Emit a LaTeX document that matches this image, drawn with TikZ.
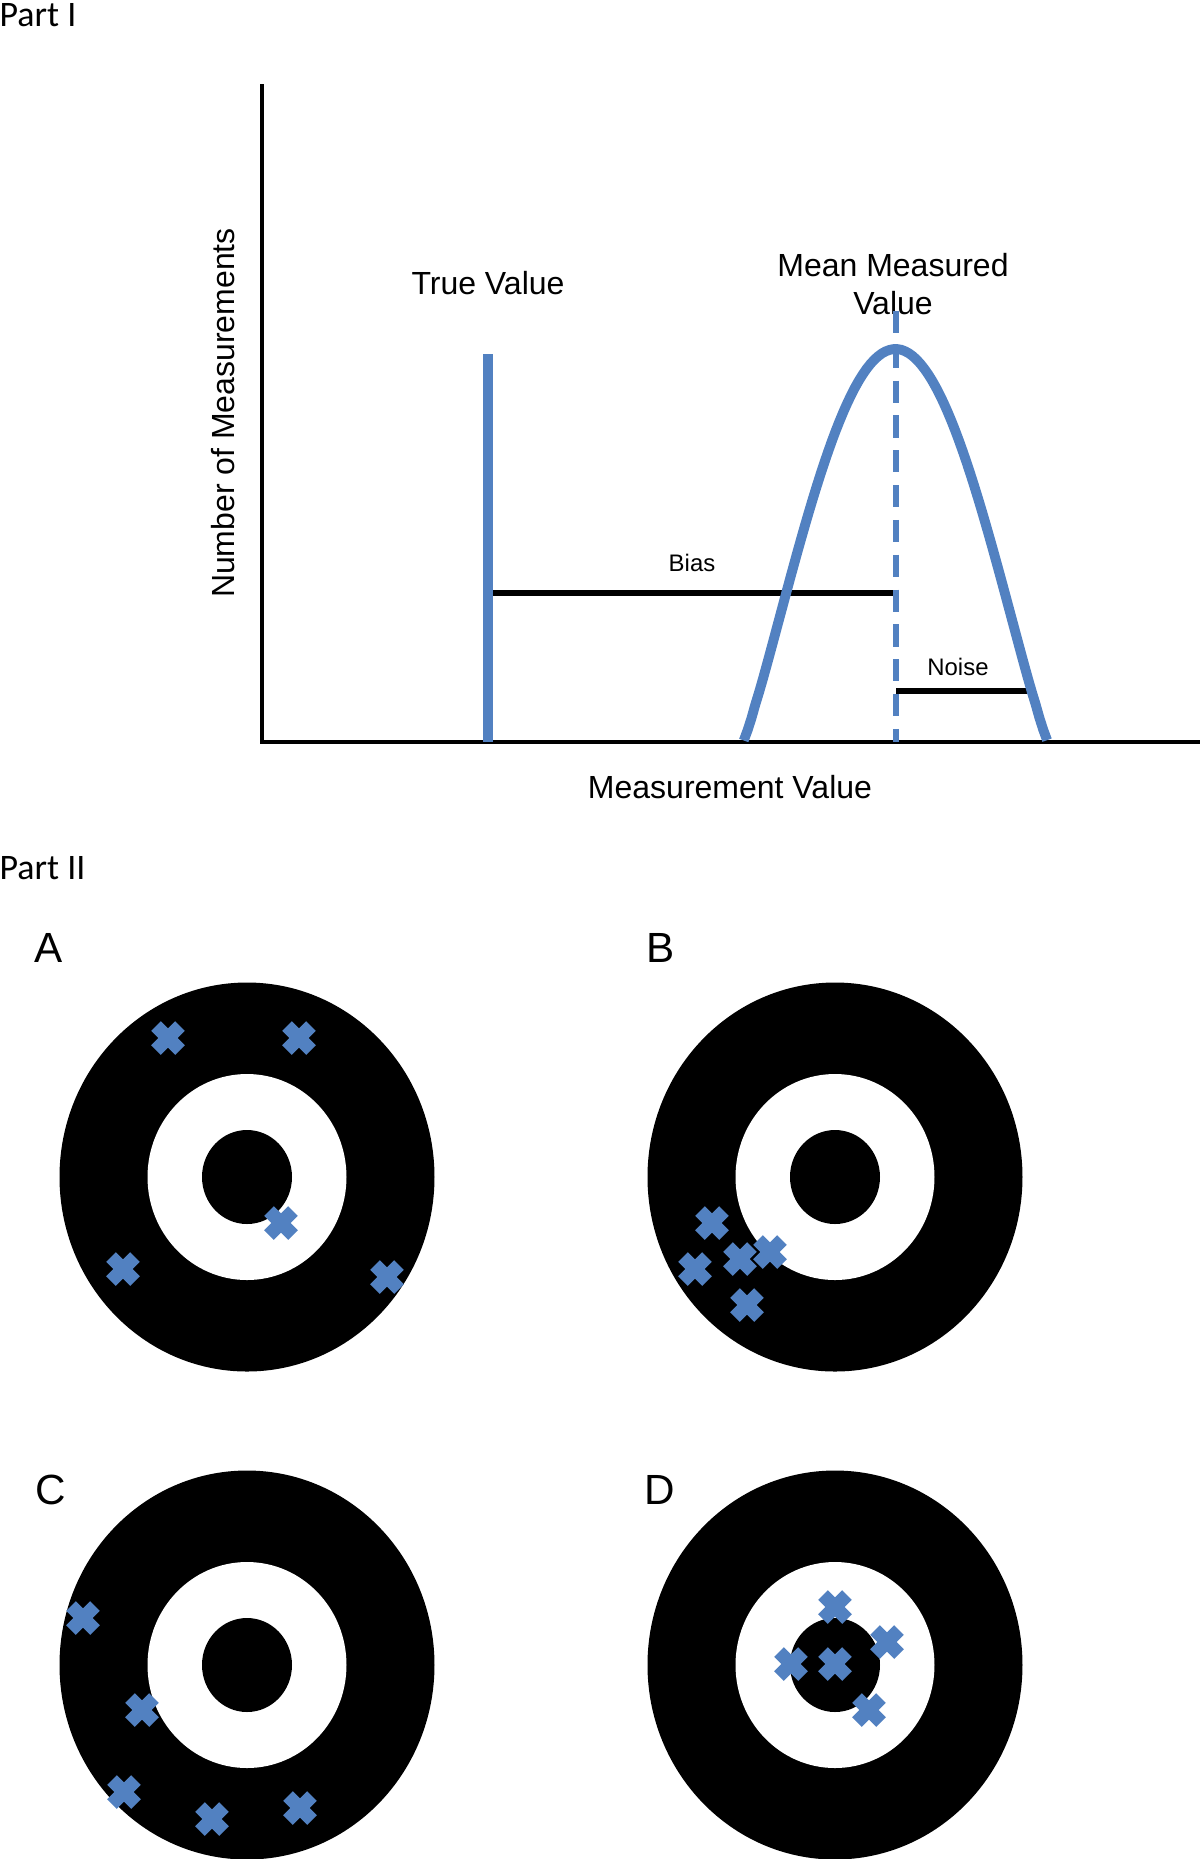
\documentclass[tikz,border=0pt]{standalone}
\usepackage{fontspec}
\setmainfont{Liberation Sans}
\newfontfamily\partfont{Carlito}
\definecolor{plotblue}{RGB}{82,129,193}

\begin{document}
\begin{tikzpicture}[x=0.01cm,y=-0.01cm,
    lbl/.style={inner sep=0,anchor=base,font=\fontsize{9.1}{10.9}\selectfont},
    smalllbl/.style={inner sep=0,anchor=base,font=\fontsize{6.8}{8}\selectfont},
    partlbl/.style={inner sep=0,anchor=base west,font=\partfont\fontsize{10.2}{12}\selectfont},
    panel/.style={inner sep=0,anchor=base,font=\fontsize{12}{14}\selectfont},
    blueline/.style={draw=plotblue,line width=2.8pt},
    hit/.pic={\draw[plotblue,line width=3.9pt] (-12,-12) -- (12,12) (-12,12) -- (12,-12);}]
  \useasboundingbox (0,0) rectangle (1200,1859);

    \node[partlbl] (part1) at (-1,26) {Part I};
    \node[lbl] (truelab) at (488,294) {True Value};
    \node[lbl] (meanlab) at (893,276) {Mean Measured};
    \node[lbl] (meanlab2) at (893,314) {Value};
    \node[lbl,rotate=90] (ylab) at (235,413) {Number of Measurements};
    \node[lbl] (xlab) at (730,798) {Measurement Value};
    \node[smalllbl] (biaslab) at (692,571) {Bias};
    \node[smalllbl] (noiselab) at (958,675) {Noise};

    \coordinate (ytop) at (262,84);
    \coordinate (o) at (262,742);
    \coordinate (xend) at (1200,742);
    \coordinate (tvtop) at (488,354);
    \coordinate (tvbot) at (488,742);
    \coordinate (mtop) at (896,311);
    \coordinate (mbot) at (896,742);
    \coordinate (biasl) at (488,593);
    \coordinate (biasr) at (896,593);
    \coordinate (noisel) at (896,691);
    \coordinate (noiser) at (1035,691);

    \draw[line width=1pt] (ytop) -- (o) -- (xend);
    \draw[line width=1.5pt] (biasl) -- (biasr) (noisel) -- (noiser);
    \draw[blueline] (tvtop) -- (tvbot);
    \draw[blueline] plot[domain=-0.995:0.995,samples=80] ({895.5+152.5*\x},{742-393*cos(90*\x)^1.15});
    \draw[plotblue,line width=1.5pt,dash pattern=on 6.3pt off 3.6pt] (mtop) -- (mbot);

    \node[partlbl] (part2) at (-1,879) {Part II};
    \node[panel] (pa) at (49,962) {A};
    \node[panel] (pb) at (661,962) {B};
    \node[panel] (pc) at (51,1504) {C};
    \node[panel] (pd) at (660,1504) {D};

    \foreach \cx/\cy in {247/1177,835/1177,247/1665,835/1665}{
      \fill (\cx,\cy) ellipse [x radius=187.5,y radius=194.5];
      \fill[white] (\cx,\cy) ellipse [x radius=99.5,y radius=103];
      \fill (\cx,\cy) ellipse [x radius=45,y radius=47];
    }
    \foreach \hx/\hy in {168/1038,299/1038,281/1223,123/1269,387/1277,
      712/1223,695/1269,740/1259,770/1252,747/1305,
      83/1618,142/1710,124/1792,212/1819,300/1808,
      835/1607,887/1642,791/1664,835/1664,869/1710}
      \pic at (\hx,\hy) {hit};
\end{tikzpicture}
\end{document}
